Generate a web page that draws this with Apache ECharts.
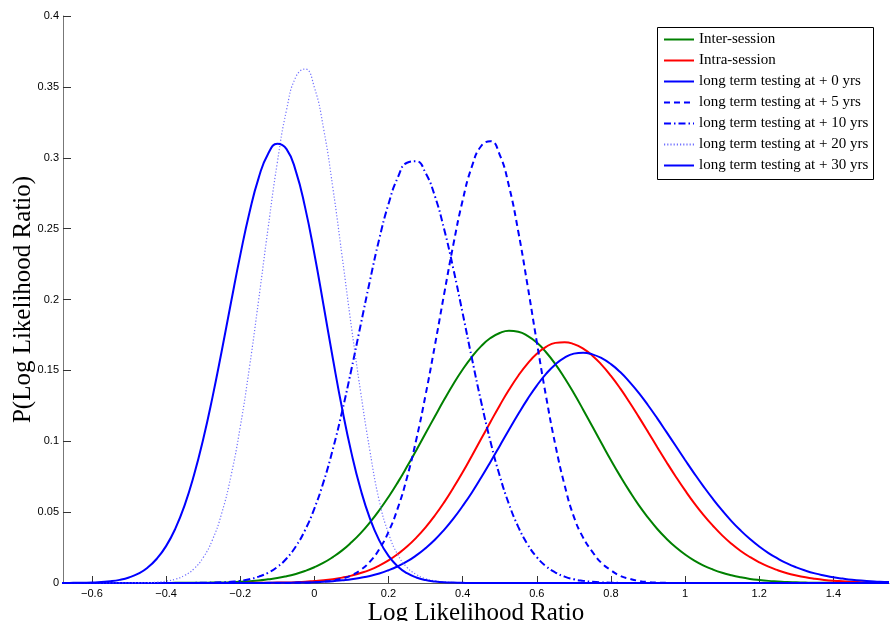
<!DOCTYPE html>
<html><head><meta charset="utf-8">
<script src="https://cdn.jsdelivr.net/npm/echarts@6/dist/echarts.min.js"></script>
<style>html,body{margin:0;padding:0;background:#fff}#c{width:890px;height:621px}</style>
</head><body><div id="c"></div>
<script>
// Sample positions (log likelihood ratio)
const xGrid = [-0.7,-0.675,-0.65,-0.625,-0.6,-0.575,-0.55,-0.525,-0.5,-0.475,
 -0.45,-0.425,-0.4,-0.375,-0.35,-0.325,-0.3,-0.275,-0.25,-0.225,
 -0.2,-0.175,-0.15,-0.125,-0.1,-0.075,-0.05,-0.025,0,0.025,
 0.05,0.075,0.1,0.125,0.15,0.175,0.2,0.225,0.25,0.275,
 0.3,0.325,0.35,0.375,0.4,0.425,0.45,0.475,0.5,0.525,
 0.55,0.575,0.6,0.625,0.65,0.675,0.7,0.725,0.75,0.775,
 0.8,0.825,0.85,0.875,0.9,0.925,0.95,0.975,1,1.025,
 1.05,1.075,1.1,1.125,1.15,1.175,1.2,1.225,1.25,1.275,
 1.3,1.325,1.35,1.375,1.4,1.425,1.45,1.475,1.5,1.525,
 1.55];

// Series values (probability)
const interSession = [0,0,0,0,0,0,0,0,0,0,
 0,0,0,0.0001,0.0001,0.0001,0.0002,0.0003,0.0004,0.0006,
 0.0009,0.0013,0.0018,0.0026,0.0035,0.0048,0.0064,0.0085,0.0111,0.0143,
 0.0183,0.0230,0.0287,0.0352,0.0428,0.0513,0.0607,0.0710,0.0821,0.0937,
 0.1056,0.1175,0.1292,0.1404,0.1506,0.1596,0.1671,0.1728,0.1764,0.1780,
 0.1773,0.1744,0.1696,0.1628,0.1544,0.1446,0.1338,0.1223,0.1104,0.0984,
 0.0866,0.0754,0.0648,0.0549,0.0461,0.0381,0.0312,0.0252,0.0201,0.0158,
 0.0123,0.0095,0.0072,0.0054,0.0040,0.0029,0.0021,0.0015,0.0011,0.0007,
 0.0005,0.0003,0.0002,0.0002,0.0001,0.0001,0,0,0,0,
 0];
const intraSession = [0,0,0,0,0,0,0,0,0,0,
 0,0,0,0,0,0,0,0,0,0,
 0,0.0001,0.0001,0.0002,0.0003,0.0004,0.0006,0.0009,0.0014,0.0019,
 0.0027,0.0038,0.0052,0.0070,0.0093,0.0123,0.0159,0.0204,0.0257,0.0320,
 0.0393,0.0476,0.0569,0.0672,0.0781,0.0898,0.1017,0.1136,0.1253,0.1363,
 0.1462,0.1548,0.1617,0.1666,0.1694,0.1699,0.1685,0.1653,0.1604,0.1539,
 0.1461,0.1373,0.1275,0.1172,0.1066,0.0958,0.0852,0.0750,0.0653,0.0562,
 0.0479,0.0404,0.0336,0.0277,0.0226,0.0183,0.0146,0.0115,0.0090,0.0069,
 0.0053,0.0040,0.0030,0.0022,0.0016,0.0012,0.0008,0.0006,0.0004,0.0003,
 0.0002];
const yrs0 = [0,0,0,0,0,0,0,0,0,0,
 0,0,0,0,0,0,0,0,0,0,
 0,0,0,0.0001,0.0001,0.0002,0.0003,0.0004,0.0006,0.0009,
 0.0013,0.0019,0.0026,0.0037,0.0050,0.0067,0.0090,0.0118,0.0152,0.0195,
 0.0246,0.0305,0.0375,0.0454,0.0543,0.0639,0.0744,0.0854,0.0967,0.1081,
 0.1192,0.1297,0.1393,0.1475,0.1542,0.1590,0.1618,0.1625,0.1613,0.1586,
 0.1544,0.1488,0.1419,0.1341,0.1254,0.1161,0.1064,0.0966,0.0868,0.0772,
 0.0680,0.0593,0.0512,0.0437,0.0370,0.0310,0.0257,0.0211,0.0172,0.0138,
 0.0110,0.0087,0.0068,0.0053,0.0040,0.0031,0.0023,0.0017,0.0013,0.0009,
 0.0007];
const yrs5 = [0,0,0,0,0,0,0,0,0,0,
 0,0,0,0,0,0,0,0,0,0,
 0,0,0,0,0,0,0.0001,0.0002,0.0005,0.0009,
 0.0017,0.0031,0.0054,0.0092,0.0151,0.0238,0.0361,0.0528,0.0745,0.1013,
 0.1327,0.1675,0.2038,0.2389,0.2699,0.2939,0.3083,0.3117,0.3021,0.2799,
 0.2480,0.2100,0.1700,0.1316,0.0975,0.0690,0.0467,0.0320,0.0220,0.0140,
 0.0090,0.0050,0.0030,0.0015,0.0007,0.0003,0.0001,0,0,0,
 0,0,0,0,0,0,0,0,0,0,
 0,0,0,0,0,0,0,0,0,0,
 0];
const yrs10 = [0,0,0,0,0,0,0,0,0,0,
 0,0,0,0,0,0.0001,0.0002,0.0003,0.0005,0.0009,
 0.0015,0.0027,0.0045,0.0072,0.0113,0.0173,0.0258,0.0373,0.0525,0.0715,
 0.0945,0.1212,0.1508,0.1822,0.2134,0.2427,0.2674,0.2860,0.2965,0.2975,
 0.2893,0.2730,0.2497,0.2215,0.1903,0.1584,0.1277,0.0998,0.0756,0.0556,
 0.0396,0.0273,0.0182,0.0118,0.0074,0.0045,0.0026,0.0015,0.0008,0.0004,
 0.0002,0.0001,0,0,0,0,0,0,0,0,
 0,0,0,0,0,0,0,0,0,0,
 0,0,0,0,0,0,0,0,0,0,
 0];
const yrs20 = [0,0,0,0,0,0,0,0,0,0.0001,
 0.0002,0.0006,0.0013,0.0027,0.0053,0.0100,0.0179,0.0304,0.0491,0.0754,
 0.1100,0.1523,0.2002,0.2500,0.2965,0.3338,0.3570,0.3626,0.3497,0.3203,
 0.2786,0.2302,0.1806,0.1345,0.0930,0.0580,0.0350,0.0200,0.0110,0.0060,
 0.0030,0.0015,0.0007,0.0003,0.0001,0,0,0,0,0,
 0,0,0,0,0,0,0,0,0,0,
 0,0,0,0,0,0,0,0,0,0,
 0,0,0,0,0,0,0,0,0,0,
 0,0,0,0,0,0,0,0,0,0,
 0];
const yrs30 = [0,0,0.0001,0.0002,0.0003,0.0007,0.0012,0.0022,0.0039,0.0066,
 0.0108,0.0171,0.0260,0.0384,0.0548,0.0758,0.1012,0.1308,0.1635,0.1977,
 0.2311,0.2614,0.2860,0.3027,0.3098,0.3061,0.2906,0.2650,0.2323,0.1956,
 0.1582,0.1229,0.0918,0.0659,0.0454,0.0301,0.0191,0.0117,0.0069,0.0039,
 0.0021,0.0011,0.0005,0.0003,0.0001,0,0,0,0,0,
 0,0,0,0,0,0,0,0,0,0,
 0,0,0,0,0,0,0,0,0,0,
 0,0,0,0,0,0,0,0,0,0,
 0,0,0,0,0,0,0,0,0,0,
 0];

const seriesNames = ['Inter-session','Intra-session','long term testing at + 0 yrs',
 'long term testing at + 5 yrs','long term testing at + 10 yrs',
 'long term testing at + 20 yrs','long term testing at + 30 yrs'];
const xTicks = [-0.6,-0.4,-0.2,0,0.2,0.4,0.6,0.8,1,1.2,1.4];

const pairs = (xs, ys) => xs.map((x, i) => [x, ys[i]]);
const mk = (name, ys, color, width, type) => ({
  name, type: 'line', data: pairs(xGrid, ys), smooth: true, symbol: 'none', showSymbol: false,
  lineStyle: { color, width, type }, itemStyle: { color }, z: 2, animation: false, clip: true
});

const chart = echarts.init(document.getElementById('c'), null, { renderer: 'canvas' });
chart.setOption({
  animation: false,
  backgroundColor: '#fff',
  grid: { left: 63, right: 1, top: 16, bottom: 38, containLabel: false, outerBoundsMode: 'none' },
  xAxis: {
    type: 'value', min: -0.678, max: 1.55,
    name: 'Log Likelihood Ratio', nameLocation: 'middle', nameGap: 18, nameMoveOverlap: false,
    nameTextStyle: { fontFamily: 'Liberation Serif', fontSize: 25, color: '#000' },
    axisLine: { show: true, onZero: false, lineStyle: { color: '#555', width: 1 } },
    axisTick: { show: true, inside: true, length: 7, customValues: xTicks, lineStyle: { color: '#333' } },
    axisLabel: { customValues: xTicks, margin: 5, fontSize: 11, fontFamily: 'Liberation Sans', color: '#000',
      formatter: v => { const r = Math.round(v * 10) / 10; return r < 0 ? '\u2212' + Math.abs(r) : String(r); } },
    splitLine: { show: false }
  },
  yAxis: {
    type: 'value', min: 0, max: 0.4, interval: 0.05,
    name: 'P(Log Likelihood Ratio)', nameLocation: 'middle', nameGap: 27, nameMoveOverlap: false,
    nameTextStyle: { fontFamily: 'Liberation Serif', fontSize: 25, color: '#000' },
    axisLine: { show: true, onZero: false, lineStyle: { color: '#777', width: 1 } },
    axisTick: { show: true, inside: true, length: 8, lineStyle: { color: '#333' } },
    axisLabel: { margin: 4, fontSize: 11, fontFamily: 'Liberation Sans', color: '#000',
      formatter: v => String(Math.round(v * 100) / 100) },
    splitLine: { show: false }
  },
  legend: {
    orient: 'vertical', left: 663, top: 32, padding: 0, itemGap: 6,
    itemWidth: 30, itemHeight: 14, z: 10,
    itemStyle: { opacity: 0 },
    textStyle: { fontFamily: 'Liberation Serif', fontSize: 15, color: '#000', lineHeight: 15 },
    data: seriesNames
  },
  graphic: [{
    type: 'rect', z: 5, silent: true,
    shape: { x: 657.5, y: 27.5, width: 216, height: 152 },
    style: { fill: '#fff', stroke: '#000', lineWidth: 1 }
  }],
  series: [
    mk(seriesNames[0], interSession, '#008000', 2, 'solid'),
    mk(seriesNames[1], intraSession, '#ff0000', 2, 'solid'),
    mk(seriesNames[2], yrs0, '#0000ff', 2, 'solid'),
    mk(seriesNames[3], yrs5, '#0000ff', 2, [6, 4]),
    mk(seriesNames[4], yrs10, '#0000ff', 2, [7, 3, 1.5, 3]),
    mk(seriesNames[5], yrs20, '#7070ff', 1.2, [1.2, 2]),
    mk(seriesNames[6], yrs30, '#0000ff', 2, 'solid')
  ]
});
</script></body></html>
